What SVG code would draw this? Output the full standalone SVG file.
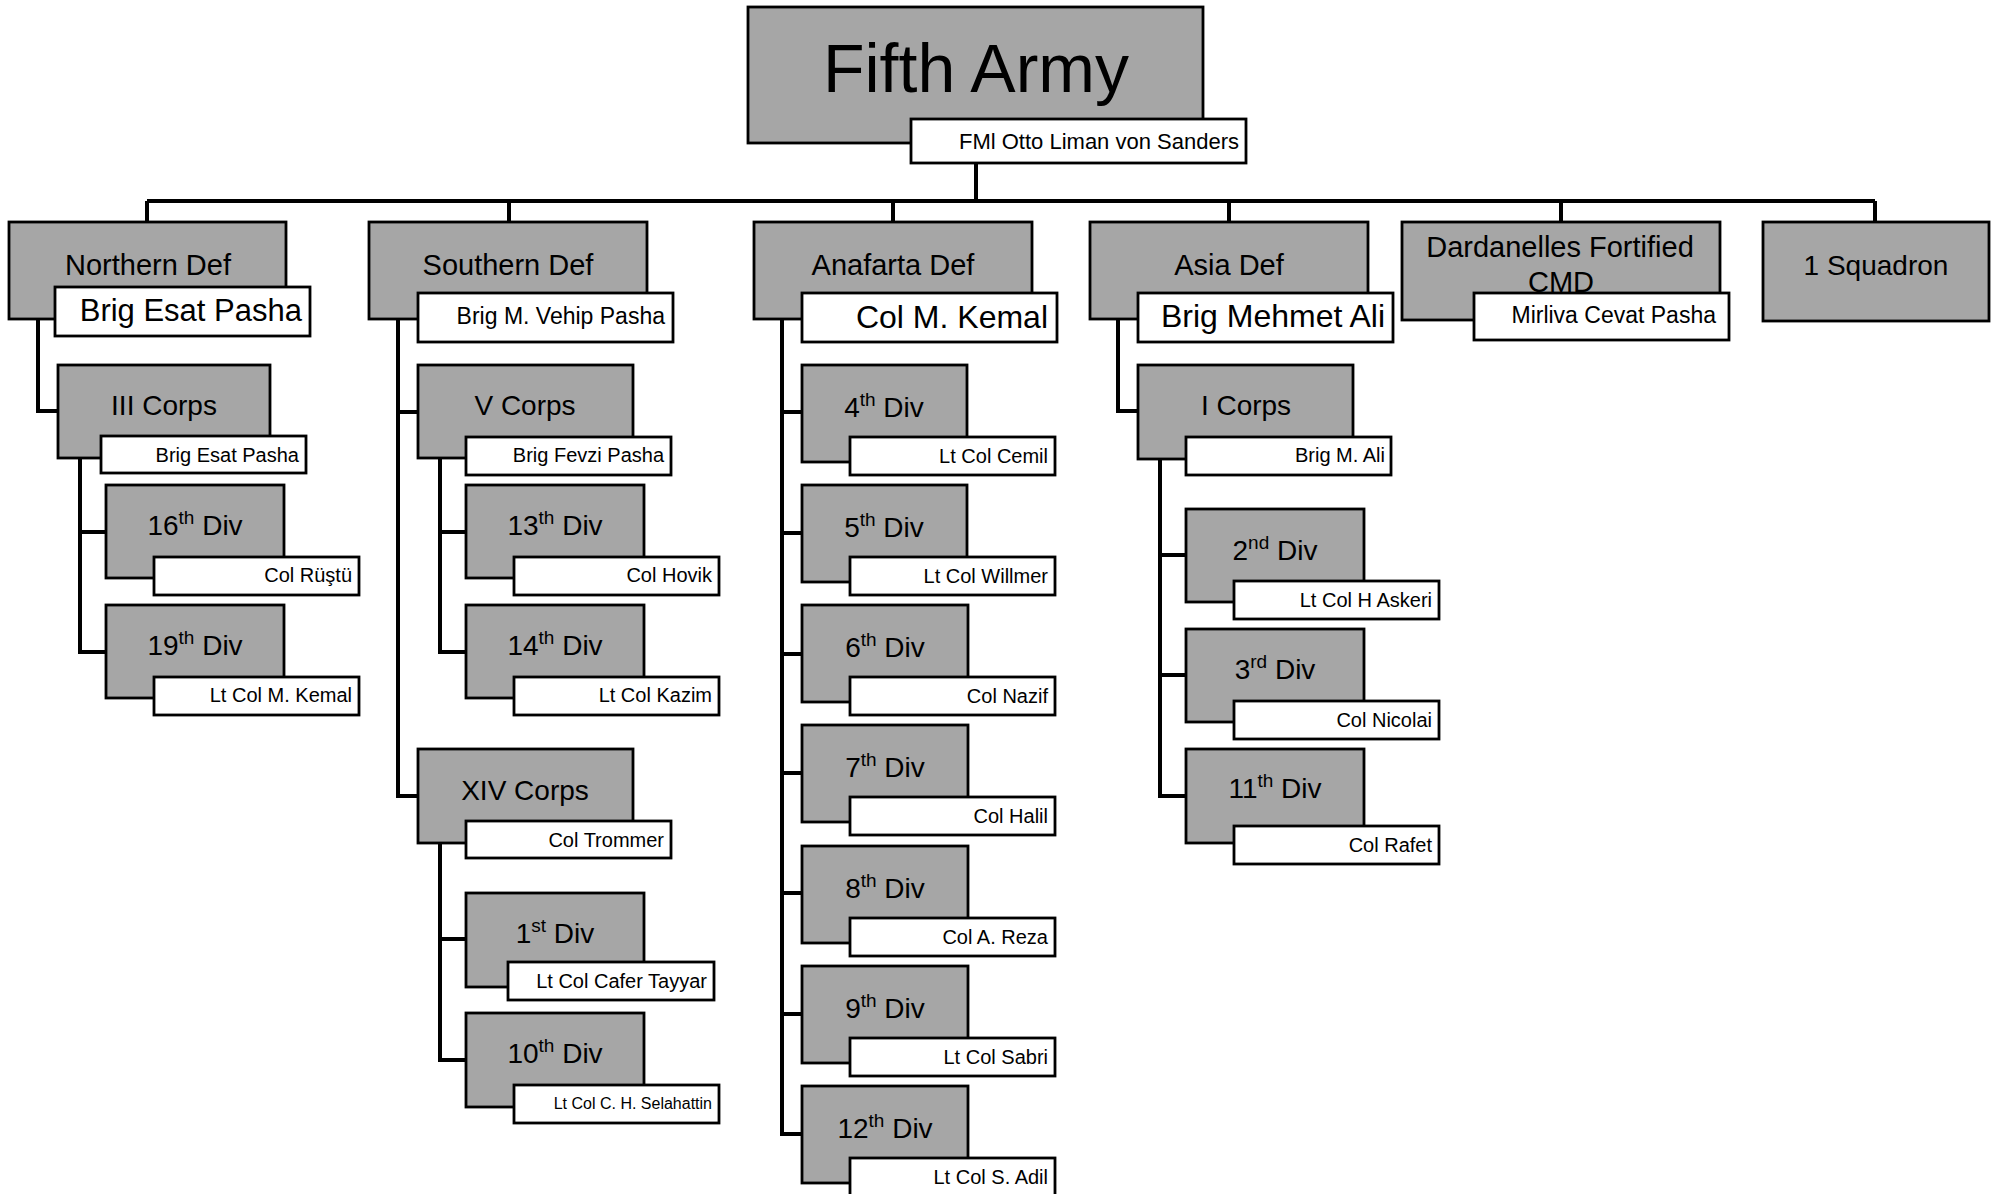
<svg xmlns="http://www.w3.org/2000/svg" width="1997" height="1194" viewBox="0 0 1997 1194">
<style>
.g{fill:#a6a6a6;stroke:#000;stroke-width:2.8}
.n{fill:#fff;stroke:#000;stroke-width:2.8}
text{font-family:"Liberation Sans",Arial,sans-serif;fill:#000}
.t{font-size:29px;text-anchor:middle}
.l{font-size:28px;text-anchor:middle}
.s{font-size:19px}
.nm{font-size:20px;text-anchor:end}
.conn path{fill:none;stroke:#000;stroke-width:4}
</style>
<rect width="1997" height="1194" fill="#fff"/>
<g class="conn">
<path d="M976 163V201M147 201H1875M147 201V222M509 201V222M893 201V222M1229 201V222M1561 201V222M1875 201V222"/>
<path d="M38 319V411H58M80 458V652H106M80 532H106"/>
<path d="M398 319V796H418M398 412H418M440 458V652H466M440 532H466M440 843V1060H466M440 939H466"/>
<path d="M782 319V1134H802M782 412H802M782 533H802M782 654H802M782 773H802M782 893H802M782 1014H802"/>
<path d="M1118 319V411H1138M1160 459V796H1186M1160 555H1186M1160 675H1186"/>
</g>
<g id="fifth-army"><rect class="g" x="748" y="7" width="455" height="136"/><text x="976" y="92" style="font-size:68px;text-anchor:middle">Fifth Army</text><rect class="n" x="911" y="119" width="335" height="44"/><text x="1239" y="149" style="font-size:22px;text-anchor:end">FMl Otto Liman von Sanders</text></g>
<g id="northern-def"><rect class="g" x="9" y="222" width="277" height="97"/><text class="t" x="148" y="275">Northern Def</text><rect class="n" x="55" y="287" width="255" height="49"/><text x="302" y="321" style="font-size:31px;text-anchor:end">Brig Esat Pasha</text></g>
<g id="southern-def"><rect class="g" x="369" y="222" width="278" height="97"/><text class="t" x="508" y="275">Southern Def</text><rect class="n" x="418" y="293" width="255" height="49"/><text x="665" y="324" style="font-size:23px;text-anchor:end">Brig M. Vehip Pasha</text></g>
<g id="anafarta-def"><rect class="g" x="754" y="222" width="278" height="97"/><text class="t" x="893" y="275">Anafarta Def</text><rect class="n" x="802" y="293" width="255" height="49"/><text x="1048" y="328" style="font-size:32px;text-anchor:end">Col M. Kemal</text></g>
<g id="asia-def"><rect class="g" x="1090" y="222" width="278" height="97"/><text class="t" x="1229" y="275">Asia Def</text><rect class="n" x="1138" y="293" width="255" height="49"/><text x="1385" y="327" style="font-size:32px;text-anchor:end">Brig Mehmet Ali</text></g>
<g id="dardanelles"><rect class="g" x="1402" y="222" width="318" height="98"/><text class="t" x="1560" y="257">Dardanelles Fortified</text><text class="t" x="1561" y="292">CMD</text><rect class="n" x="1474" y="293" width="255" height="47"/><text x="1716" y="323" style="font-size:23px;text-anchor:end">Mirliva Cevat Pasha</text></g>
<g id="squadron"><rect class="g" x="1763" y="222" width="226" height="99"/><text class="l" x="1876" y="275">1 Squadron</text></g>
<g id="iii-corps"><rect class="g" x="58" y="365" width="212" height="93"/><text class="l" x="164" y="415">III Corps</text><rect class="n" x="101" y="436" width="205" height="37"/><text class="nm" x="299" y="462">Brig Esat Pasha</text></g>
<g id="v-corps"><rect class="g" x="418" y="365" width="215" height="93"/><text class="l" x="525" y="415">V Corps</text><rect class="n" x="466" y="437" width="205" height="38"/><text class="nm" x="664" y="462">Brig Fevzi Pasha</text></g>
<g id="xiv-corps"><rect class="g" x="418" y="749" width="215" height="94"/><text class="l" x="525" y="800">XIV Corps</text><rect class="n" x="466" y="821" width="205" height="37"/><text class="nm" x="664" y="847">Col Trommer</text></g>
<g id="i-corps"><rect class="g" x="1138" y="365" width="215" height="94"/><text class="l" x="1246" y="415">I Corps</text><rect class="n" x="1186" y="437" width="205" height="38"/><text class="nm" x="1385" y="462">Brig M. Ali</text></g>
<g id="div16"><rect class="g" x="106" y="485" width="178" height="93"/><text class="l" x="195" y="535">16<tspan class="s" dy="-11">th</tspan><tspan dy="11"> Div</tspan></text><rect class="n" x="154" y="557" width="205" height="38"/><text class="nm" x="352" y="582">Col Rüştü</text></g>
<g id="div19"><rect class="g" x="106" y="605" width="178" height="93"/><text class="l" x="195" y="655">19<tspan class="s" dy="-11">th</tspan><tspan dy="11"> Div</tspan></text><rect class="n" x="154" y="677" width="205" height="38"/><text class="nm" x="352" y="702">Lt Col M. Kemal</text></g>
<g id="div13"><rect class="g" x="466" y="485" width="178" height="93"/><text class="l" x="555" y="535">13<tspan class="s" dy="-11">th</tspan><tspan dy="11"> Div</tspan></text><rect class="n" x="514" y="557" width="205" height="38"/><text class="nm" x="712" y="582">Col Hovik</text></g>
<g id="div14"><rect class="g" x="466" y="605" width="178" height="93"/><text class="l" x="555" y="655">14<tspan class="s" dy="-11">th</tspan><tspan dy="11"> Div</tspan></text><rect class="n" x="514" y="677" width="205" height="38"/><text class="nm" x="712" y="702">Lt Col Kazim</text></g>
<g id="div1"><rect class="g" x="466" y="893" width="178" height="94"/><text class="l" x="555" y="943">1<tspan class="s" dy="-11">st</tspan><tspan dy="11"> Div</tspan></text><rect class="n" x="508" y="962" width="206" height="38"/><text class="nm" x="707" y="988">Lt Col Cafer Tayyar</text></g>
<g id="div10"><rect class="g" x="466" y="1013" width="178" height="94"/><text class="l" x="555" y="1063">10<tspan class="s" dy="-11">th</tspan><tspan dy="11"> Div</tspan></text><rect class="n" x="514" y="1085" width="205" height="38"/><text class="nm" x="712" y="1109" style="font-size:16px">Lt Col C. H. Selahattin</text></g>
<g id="div4"><rect class="g" x="802" y="365" width="165" height="97"/><text class="l" x="884" y="417">4<tspan class="s" dy="-11">th</tspan><tspan dy="11"> Div</tspan></text><rect class="n" x="850" y="437" width="205" height="38"/><text class="nm" x="1048" y="463">Lt Col Cemil</text></g>
<g id="div5"><rect class="g" x="802" y="485" width="165" height="97"/><text class="l" x="884" y="537">5<tspan class="s" dy="-11">th</tspan><tspan dy="11"> Div</tspan></text><rect class="n" x="850" y="557" width="205" height="38"/><text class="nm" x="1048" y="583">Lt Col Willmer</text></g>
<g id="div6"><rect class="g" x="802" y="605" width="166" height="97"/><text class="l" x="885" y="657">6<tspan class="s" dy="-11">th</tspan><tspan dy="11"> Div</tspan></text><rect class="n" x="850" y="677" width="205" height="38"/><text class="nm" x="1048" y="703">Col Nazif</text></g>
<g id="div7"><rect class="g" x="802" y="725" width="166" height="97"/><text class="l" x="885" y="777">7<tspan class="s" dy="-11">th</tspan><tspan dy="11"> Div</tspan></text><rect class="n" x="850" y="797" width="205" height="38"/><text class="nm" x="1048" y="823">Col Halil</text></g>
<g id="div8"><rect class="g" x="802" y="846" width="166" height="97"/><text class="l" x="885" y="898">8<tspan class="s" dy="-11">th</tspan><tspan dy="11"> Div</tspan></text><rect class="n" x="850" y="918" width="205" height="38"/><text class="nm" x="1048" y="944">Col A. Reza</text></g>
<g id="div9"><rect class="g" x="802" y="966" width="166" height="97"/><text class="l" x="885" y="1018">9<tspan class="s" dy="-11">th</tspan><tspan dy="11"> Div</tspan></text><rect class="n" x="850" y="1038" width="205" height="38"/><text class="nm" x="1048" y="1064">Lt Col Sabri</text></g>
<g id="div12"><rect class="g" x="802" y="1086" width="166" height="97"/><text class="l" x="885" y="1138">12<tspan class="s" dy="-11">th</tspan><tspan dy="11"> Div</tspan></text><rect class="n" x="850" y="1158" width="205" height="38"/><text class="nm" x="1048" y="1184">Lt Col S. Adil</text></g>
<g id="div2"><rect class="g" x="1186" y="509" width="178" height="93"/><text class="l" x="1275" y="560">2<tspan class="s" dy="-11">nd</tspan><tspan dy="11"> Div</tspan></text><rect class="n" x="1234" y="581" width="205" height="38"/><text class="nm" x="1432" y="607">Lt Col H Askeri</text></g>
<g id="div3"><rect class="g" x="1186" y="629" width="178" height="93"/><text class="l" x="1275" y="679">3<tspan class="s" dy="-11">rd</tspan><tspan dy="11"> Div</tspan></text><rect class="n" x="1234" y="701" width="205" height="38"/><text class="nm" x="1432" y="727">Col Nicolai</text></g>
<g id="div11"><rect class="g" x="1186" y="749" width="178" height="94"/><text class="l" x="1275" y="798">11<tspan class="s" dy="-11">th</tspan><tspan dy="11"> Div</tspan></text><rect class="n" x="1234" y="826" width="205" height="38"/><text class="nm" x="1432" y="852">Col Rafet</text></g>
</svg>
